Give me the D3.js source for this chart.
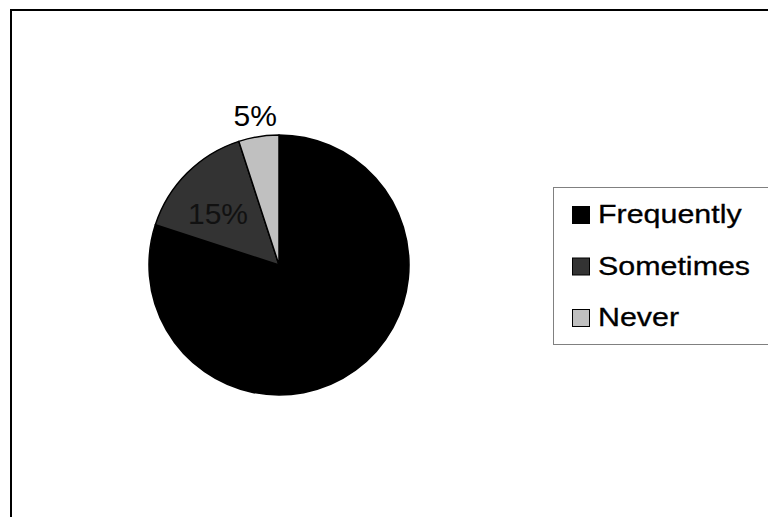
<!DOCTYPE html>
<html>
<head>
<meta charset="utf-8">
<script src="https://cdn.jsdelivr.net/npm/d3@7"></script>
<style>
  html, body { margin: 0; padding: 0; background: #fff; }
  svg { display: block; }
  text { font-family: "Liberation Sans", Arial, sans-serif; }
</style>
</head>
<body>
<svg id="chart" width="768" height="517"></svg>
<script>
const categories = ["Frequently", "Sometimes", "Never"];
const values = [80, 15, 5];
const colors = ["#000000", "#333333", "#c0c0c0"];
const showLabel = [false, true, true];

const svg = d3.select("#chart");

// outer chart frame (extends past right/bottom edge)
svg.append("rect")
  .attr("x", 11).attr("y", 10)
  .attr("width", 900).attr("height", 700)
  .attr("fill", "#fff")
  .attr("stroke", "#000").attr("stroke-width", 2);

const cx = 279, cy = 265, R = 130;
const total = d3.sum(values);

const pie = d3.pie().sort(null).value(d => d)(values);
const arc = d3.arc().innerRadius(0).outerRadius(R);

const g = svg.append("g").attr("transform", `translate(${cx},${cy})`);
g.selectAll("path.slice")
  .data(pie)
  .join("path")
  .attr("class", "slice")
  .attr("d", arc)
  .attr("fill", (d, i) => colors[i])
  .attr("stroke", "#000")
  .attr("stroke-width", 1.5)
  .attr("stroke-linejoin", "round");

const fmt = d3.format(".0%");
const fs = 30;
g.selectAll("text.pct")
  .data(pie.filter((d, i) => showLabel[i]))
  .join("text")
  .attr("class", "pct")
  .each(function(d) {
    const share = d.data / total;
    const mid = (d.startAngle + d.endAngle) / 2;
    const r = share < 0.1 ? R * 1.17 : R * 0.62;
    const x = r * Math.sin(mid);
    const y = -r * Math.cos(mid);
    d3.select(this)
      .attr("x", x - (share < 0.1 ? 0 : 4))
      .attr("y", y + 0.36 * fs + (share < 0.1 ? 0 : 5))
      .attr("text-anchor", "middle")
      .attr("font-size", fs)
      .attr("fill", share < 0.1 ? "#000" : "#111")
      .text(fmt(share));
  });

// legend
const lg = svg.append("g");
lg.append("rect")
  .attr("x", 553.5).attr("y", 187.5)
  .attr("width", 300).attr("height", 157)
  .attr("fill", "#fff")
  .attr("stroke", "#808080").attr("stroke-width", 1);

const rowY = d3.scalePoint().domain(categories).range([223, 326]);
const items = lg.selectAll("g.item")
  .data(categories)
  .join("g")
  .attr("class", "item");

items.append("rect")
  .attr("x", 572.5)
  .attr("y", d => rowY(d) - 16.5)
  .attr("width", 17).attr("height", 17)
  .attr("fill", (d, i) => colors[i])
  .attr("stroke", "#000").attr("stroke-width", 1);

items.append("text")
  .attr("transform", d => `translate(598,${rowY(d)}) scale(1.17,1)`)
  .attr("font-size", 26)
  .attr("fill", "#000")
  .attr("stroke", "#000")
  .attr("stroke-width", 0.3)
  .text(d => d);
</script>
</body>
</html>
